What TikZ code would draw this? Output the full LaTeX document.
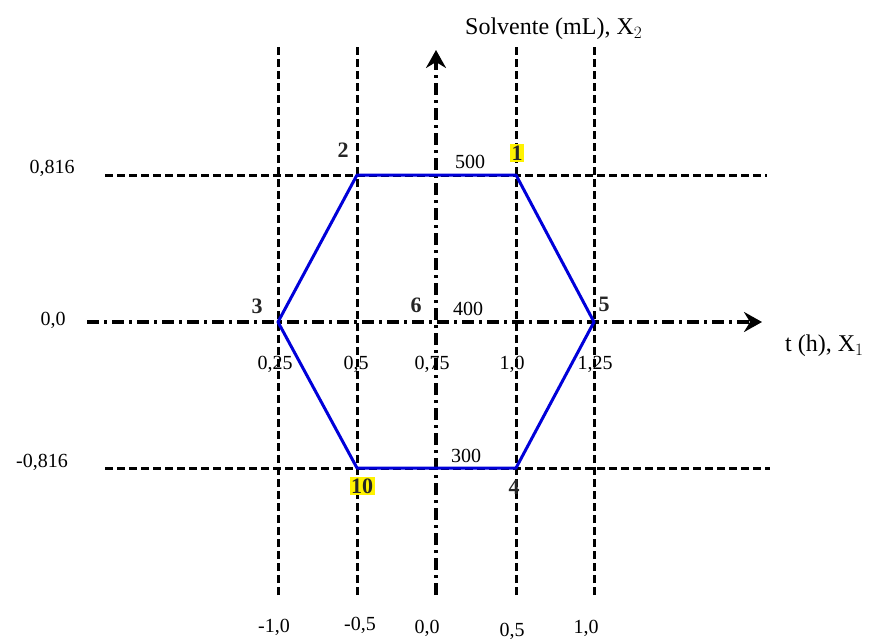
\documentclass[tikz,border=0pt]{standalone}
\usepackage{fontspec}
\setmainfont{Liberation Serif}
\usetikzlibrary{arrows.meta}
\begin{document}
\begin{tikzpicture}[x=1pt,y=-1pt,
  gridline/.style={line width=3pt, dash pattern=on 8pt off 4pt},
  axisline/.style={line width=4pt, dash pattern=on 12pt off 5pt on 3pt off 5pt,
    -{Stealth[length=18pt,width=20pt,inset=6pt]}},
  hex/.style={draw=blue!85!black, line width=3pt, line join=round},
  num/.style={font=\fontsize{20}{22}\selectfont, inner sep=0pt},
  ptlab/.style={font=\fontsize{22}{24}\selectfont\bfseries, inner sep=0pt, text=black!85},
  hl/.style={fill=yellow, inner sep=1.5pt},
  title/.style={font=\fontsize{24}{26}\selectfont, inner sep=0pt}]
\useasboundingbox (0,0) rectangle (882,639);
% grid coordinates
\foreach \n/\x in {a/278,b/357,d/516,e/594}{
  \coordinate (v\n top) at (\x,45);
  \coordinate (v\n bot) at (\x,595);
}
\coordinate (vctop) at (436,50);
\coordinate (vcbot) at (436,595);
\coordinate (htl) at (105,175);
\coordinate (htr) at (767,175);
\coordinate (hbl) at (105,468);
\coordinate (hbr) at (770,468);
\coordinate (hml) at (87,322);
\coordinate (hmr) at (762,322);
% vertical grid lines
\foreach \n in {a,b,d,e}{ \draw[gridline] (v\n bot) -- (v\n top); }
% horizontal grid lines
\draw[gridline] (htl) -- (htr);
\draw[gridline] (hbl) -- (hbr);
% axes
\draw[axisline] (vcbot) -- (vctop);
\draw[axisline] (hml) -- (hmr);
% hexagon
\coordinate (p1) at (516,175);
\coordinate (p2) at (357,175);
\coordinate (p3) at (278,322);
\coordinate (p10) at (357,468);
\coordinate (p4) at (516,468);
\coordinate (p5) at (594,322);
\draw[hex] (p1) -- (p2) -- (p3) -- (p10) -- (p4) -- (p5) -- cycle;
% point labels
\node[ptlab] (l2) at (343,150) {2};
\node[ptlab,hl] (l1) at (517,153) {1};
\node[ptlab] (l3) at (257,306) {3};
\node[ptlab] (l6) at (416,305) {6};
\node[ptlab] (l5) at (604,304) {5};
\node[ptlab,hl] (l10) at (362,486) {10};
\node[ptlab] (l4) at (514,487) {4};
% solvent values
\node[num] (s500) at (470,162) {500};
\node[num] (s400) at (468,309) {400};
\node[num] (s300) at (466,456) {300};
% time values
\node[num] (t025) at (275,364) {0,25};
\node[num] (t05) at (356,364) {0,5};
\node[num] (t075) at (432,364) {0,75};
\node[num] (t10) at (512,364) {1,0};
\node[num] (t125) at (595,364) {1,25};
% left values
\node[num] (y1) at (52,168) {0,816};
\node[num] (y0) at (53,320) {0,0};
\node[num] (ym1) at (42,462) {-0,816};
% bottom values
\node[num] (xm1) at (274,627) {-1,0};
\node[num] (xm05) at (360,625) {-0,5};
\node[num] (x0) at (427,628) {0,0};
\node[num] (x05) at (512,631) {0,5};
\node[num] (x1) at (586,628) {1,0};
% axis titles
\node[title, anchor=west] (ytitle) at (465,29) {Solvente (mL), X$_2$};
\node[title, anchor=west] (xtitle) at (785,346) {t (h), X$_1$};
\end{tikzpicture}
\end{document}
